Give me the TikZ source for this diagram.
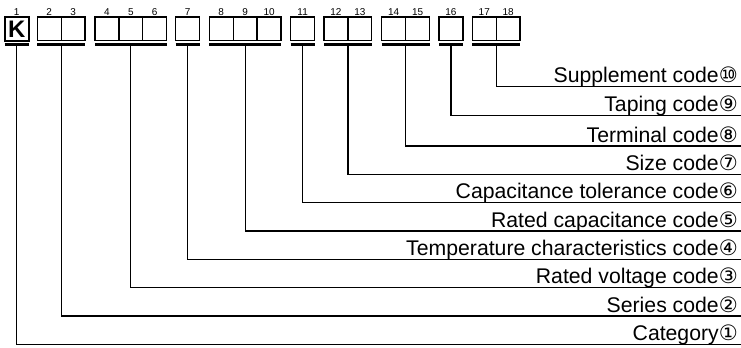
\documentclass[tikz,border=0pt]{standalone}
\usepackage{fontspec}
\setmainfont{Liberation Sans}
\newfontfamily\circfont{DejaVu Sans}
\usetikzlibrary{calc}
\begin{document}
\begin{tikzpicture}[x=1bp,y=-1bp,
  cell/.style={draw,line width=1.3bp,minimum width=23.9bp,minimum height=23.7bp,inner sep=0pt,outer sep=0pt,anchor=north west},
  num/.style={font=\fontsize{10}{11}\selectfont,inner sep=0pt,anchor=base},
  bar/.style={line width=2.3bp},
  conn/.style={line width=1.2bp},
  lab/.style={font=\fontsize{21.3}{23}\selectfont,inner sep=0pt,anchor=base east}]
\useasboundingbox (0,0) rectangle (741,347);
% first cell with K
\node[cell,line width=1.9bp,font=\bfseries\fontsize{24}{24}\selectfont] (c1) at (4.7,17) {K};
\node[num] (n1) at (16.6,15) {1};
% remaining cells
\foreach \i/\x in {2/37.3,3/61.2,4/95,5/118.9,6/142.8,7/175.7,8/209.3,9/233.2,10/257.1,11/290.7,12/324,13/347.9,14/381.7,15/405.6,16/439,17/472.3,18/496.2}{
  \node[cell] (c\i) at (\x,17) {};
  \node[num] (n\i) at (\x+11.95,15) {\i};
}
% groups: first/last/line y/label/circled number
\foreach \k/\f/\l/\y/\t/\m in {
  1/1/1/344.3/Category/①,
  2/2/3/316/Series code/②,
  3/4/6/287.7/Rated voltage code/③,
  4/7/7/259.3/Temperature characteristics code/④,
  5/8/10/231/Rated capacitance code/⑤,
  6/11/11/202.7/Capacitance tolerance code/⑥,
  7/12/13/174.2/Size code/⑦,
  8/14/15/146/Terminal code/⑧,
  9/16/16/115.7/Taping code/⑨,
  10/17/18/86.7/Supplement code/⑩}{
  \coordinate (bl\k) at ([yshift=-3.8bp]c\f.south west);
  \coordinate (br\k) at ([yshift=-3.8bp]c\l.south east);
  \coordinate (b\k) at ($(bl\k)!0.5!(br\k)$);
  \draw[bar] (bl\k) -- (br\k);
  \coordinate (e\k) at (741,\y);
  \node[lab] (l\k) at (738,\y-4) {\t{\circfont\m}};
  \draw[conn] (b\k) |- (e\k);
}
\end{tikzpicture}
\end{document}
